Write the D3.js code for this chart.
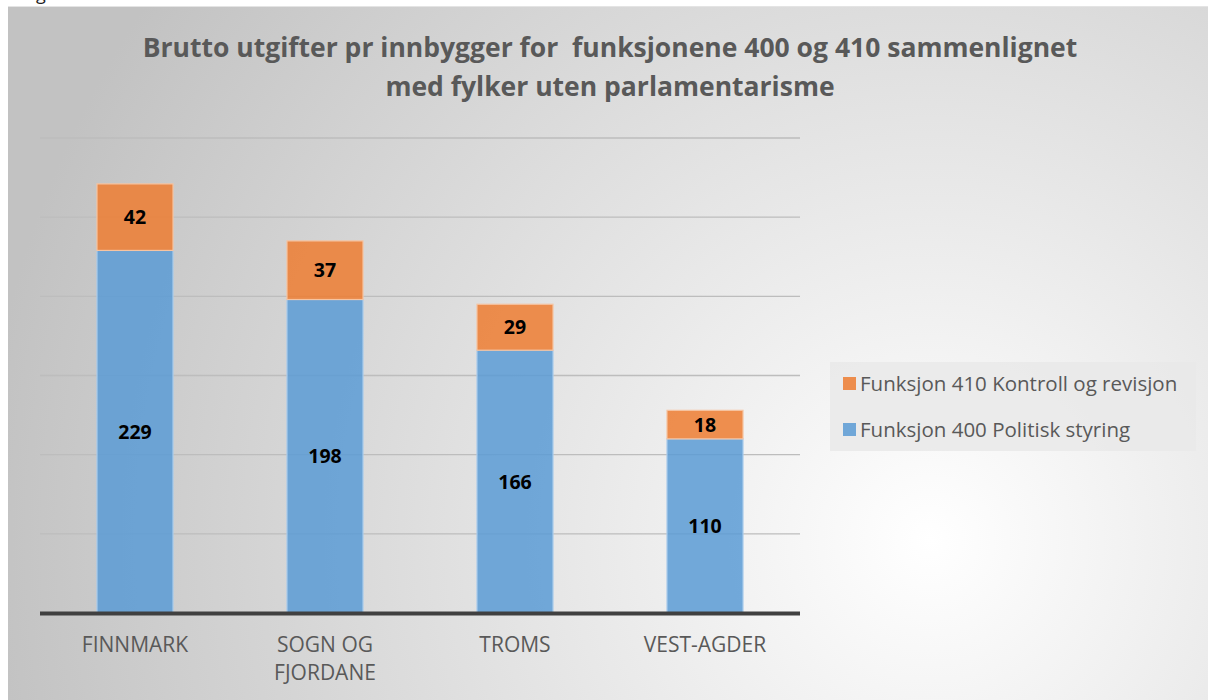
<!DOCTYPE html>
<html>
<head>
<meta charset="utf-8">
<script src="https://cdn.jsdelivr.net/npm/d3@7"></script>
<style>
  body { margin: 0; background: #fff; }
  svg { display: block; font-family: "Open Sans", sans-serif; }
</style>
</head>
<body>
<svg id="chart" width="1208" height="700"></svg>
<script>
// values
const counties = ["FINNMARK", "SOGN OG FJORDANE", "TROMS", "VEST-AGDER"];
const countyLines = [["FINNMARK"], ["SOGN OG", "FJORDANE"], ["TROMS"], ["VEST-AGDER"]];
const politisk = [229, 198, 166, 110];   // Funksjon 400
const kontroll = [42, 37, 29, 18];       // Funksjon 410
const yTicks = [0, 50, 100, 150, 200, 250, 300];
const seriesNames = ["Funksjon 410 Kontroll og revisjon", "Funksjon 400 Politisk styring"];
const titleLines = ["Brutto utgifter pr innbygger for  funksjonene 400 og 410 sammenlignet",
                    "med fylker uten parlamentarisme"];

const svg = d3.select("#chart");

// background gradient
const defs = svg.append("defs");
const grad = defs.append("radialGradient")
  .attr("id", "bg").attr("gradientUnits", "userSpaceOnUse")
  .attr("cx", 930).attr("cy", 540).attr("r", 950);
grad.append("stop").attr("offset", "0%").attr("stop-color", "#ffffff");
grad.append("stop").attr("offset", "100%").attr("stop-color", "#c2c2c2");

svg.append("text").attr("x", 36).attr("y", 0).attr("font-size", 18)
  .attr("fill", "#222").text("g");

svg.append("rect").attr("x", 8).attr("y", 6).attr("width", 1200).attr("height", 694)
  .attr("fill", "url(#bg)");
svg.append("line").attr("x1", 8).attr("x2", 1208).attr("y1", 6.5).attr("y2", 6.5)
  .attr("stroke", "#e4e4e4").attr("stroke-width", 1);

// title
svg.append("g").selectAll("text").data(titleLines).enter()
  .append("text")
  .attr("x", 610).attr("y", (d, i) => 57 + i * 39)
  .attr("text-anchor", "middle")
  .attr("font-size", 26.5).attr("font-weight", "bold").attr("fill", "#595959")
  .attr("xml:space", "preserve")
  .text(d => d);

const x = d3.scaleBand().domain(counties).range([40, 800]).paddingInner(0.6).paddingOuter(0.3);
const y = d3.scaleLinear().domain([0, 300]).range([613, 138]);

// gridlines
svg.append("g").selectAll("line").data(yTicks.slice(1)).enter()
  .append("line")
  .attr("x1", 40).attr("x2", 800)
  .attr("y1", d => y(d)).attr("y2", d => y(d))
  .attr("stroke", "#bdbdbd").attr("stroke-width", 1.3);

const stacked = counties.map((c, i) => ({ c, p: politisk[i], k: kontroll[i] }));

const bars = svg.append("g");
bars.selectAll("rect.p").data(stacked).enter()
  .append("rect").attr("class", "p")
  .attr("x", d => x(d.c)).attr("width", x.bandwidth())
  .attr("y", d => y(d.p)).attr("height", d => y(0) - y(d.p))
  .attr("fill", "#5b9bd5").attr("fill-opacity", 0.85)
  .attr("stroke", "#a9cbec").attr("stroke-width", 1.2);
bars.selectAll("rect.k").data(stacked).enter()
  .append("rect").attr("class", "k")
  .attr("x", d => x(d.c)).attr("width", x.bandwidth())
  .attr("y", d => y(d.p + d.k)).attr("height", d => y(d.p) - y(d.p + d.k))
  .attr("fill", "#ed7d31").attr("fill-opacity", 0.85)
  .attr("stroke", "#f6c4a1").attr("stroke-width", 1.2);

// data labels
const lab = svg.append("g").attr("text-anchor", "middle").attr("font-size", 19.5)
  .attr("font-weight", "bold").attr("fill", "#000");
lab.selectAll("text.p").data(stacked).enter()
  .append("text").attr("class", "p")
  .attr("x", d => x(d.c) + x.bandwidth() / 2)
  .attr("y", d => (y(0) + y(d.p)) / 2 + 7)
  .text(d => d.p);
lab.selectAll("text.k").data(stacked).enter()
  .append("text").attr("class", "k")
  .attr("x", d => x(d.c) + x.bandwidth() / 2)
  .attr("y", d => (y(d.p) + y(d.p + d.k)) / 2 + 7)
  .text(d => d.k);

// baseline
svg.append("line").attr("x1", 40).attr("x2", 800).attr("y1", y(0) + 0.5).attr("y2", y(0) + 0.5)
  .attr("stroke", "#404040").attr("stroke-width", 4);

// category labels
const cats = svg.append("g").attr("text-anchor", "middle").attr("font-size", 21).attr("fill", "#595959");
countyLines.forEach((lines, i) => {
  const cx = x(counties[i]) + x.bandwidth() / 2;
  const t = cats.append("text").attr("x", cx).attr("y", 652);
  lines.forEach((l, j) => t.append("tspan").attr("x", cx).attr("dy", j ? 28 : 0).text(l));
});

// legend
const leg = svg.append("g");
leg.append("rect").attr("x", 830).attr("y", 362).attr("width", 366).attr("height", 89)
  .attr("fill", "#e9e9e9").attr("fill-opacity", 0.85);
const legColors = ["#ed7d31", "#5b9bd5"];
seriesNames.forEach((n, i) => {
  leg.append("rect").attr("x", 843).attr("y", 377 + i * 46).attr("width", 13).attr("height", 13)
    .attr("fill", legColors[i]).attr("fill-opacity", 0.85);
  leg.append("text").attr("x", 860).attr("y", 391 + i * 46).attr("font-size", 20.5)
    .attr("fill", "#595959").text(n);
});
</script>
</body>
</html>
